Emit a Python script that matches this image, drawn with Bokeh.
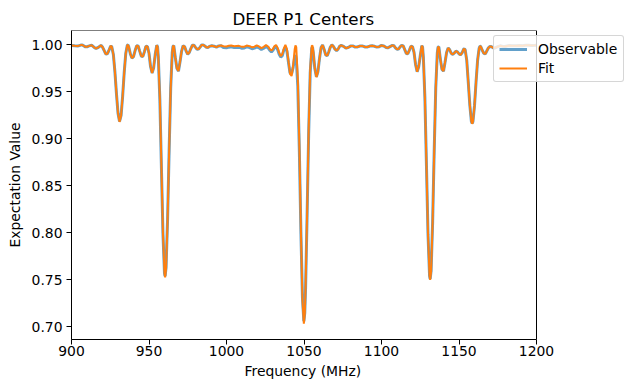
from bokeh.plotting import figure
from bokeh.models import Range1d, FixedTicker, PrintfTickFormatter, Legend, LegendItem, BoxAnnotation, Title
from bokeh.embed import file_html
from bokeh.resources import INLINE

# Frequency (MHz) sample positions
freq = [900, 902, 904, 906, 907, 909, 910, 911, 913, 915, 916, 917, 919, 920, 921, 922, 923, 924, 925, 925.5,
        926, 927, 928, 929, 930, 931, 932, 933, 934, 935, 936, 936.5, 937, 938, 939, 940, 941, 942, 943, 944,
        945, 946, 947, 948, 949, 950, 951, 952, 953, 954, 955, 955.5, 956, 957, 958, 959, 960, 960.4, 961, 962,
        963, 964, 965, 965.5, 966, 967, 968, 969, 970, 971, 972, 973, 974, 975, 976, 977, 978, 979, 980, 981,
        982, 983, 984, 985, 986, 987, 988, 989, 990.5, 992, 993.5, 995, 996.5, 998, 1000, 1001.5, 1003, 1005, 1006.5, 1008,
        1010, 1011.5, 1013, 1015, 1016.5, 1018, 1019.5, 1021, 1022.5, 1024, 1025.5, 1027, 1028, 1029, 1030, 1031, 1032, 1033, 1034, 1035,
        1036, 1037, 1038, 1039, 1040, 1041, 1042, 1043, 1044, 1044.5, 1045, 1046, 1047, 1048, 1049, 1049.9, 1050.5, 1051, 1052, 1053,
        1054, 1055, 1055.5, 1056, 1057, 1058, 1059, 1060, 1061, 1062, 1063, 1064, 1065, 1066, 1067, 1068, 1069, 1070, 1071, 1072,
        1073, 1074, 1075.5, 1077, 1078.5, 1080, 1081.5, 1083, 1084.5, 1086, 1087.5, 1089.5, 1091, 1092.5, 1094, 1095.5, 1097, 1098.5, 1100, 1101.5,
        1103, 1104, 1105.5, 1107, 1108, 1109, 1110, 1111, 1112, 1113, 1114, 1115, 1116, 1117, 1118, 1119, 1120, 1121, 1122, 1123,
        1124, 1125, 1126, 1126.5, 1127, 1128, 1129, 1130, 1131, 1131.4, 1132, 1133, 1134, 1135, 1136, 1136.5, 1137, 1138, 1139, 1140,
        1141, 1142, 1143, 1144, 1145, 1146, 1147, 1148, 1149, 1150, 1151, 1152, 1153, 1153.5, 1154, 1155, 1156, 1157, 1158, 1158.5,
        1159, 1160, 1161, 1162, 1163, 1163.5, 1164, 1165, 1166, 1167, 1168, 1169, 1170, 1171, 1172, 1173, 1174, 1175, 1176.5, 1178,
        1179.5, 1181, 1182.5, 1184, 1185.5, 1187, 1189, 1191, 1193, 1195, 1197, 1199, 1200]

# Fit expectation values
fit = [0.9993, 0.9989, 0.9986, 0.9997, 0.9998, 0.9978, 0.9978, 0.9986, 0.9996, 0.9968, 0.9961, 0.9969, 0.9994, 0.9976, 0.9942, 0.9905, 0.9901, 0.9934, 0.9977, 0.9988,
       0.9978, 0.9897, 0.9715, 0.9480, 0.9272, 0.9180, 0.9249, 0.9454, 0.9704, 0.9907, 0.9995, 0.9998, 0.9974, 0.9902, 0.9859, 0.9874, 0.9936, 0.9989, 0.9987, 0.9933,
       0.9880, 0.9874, 0.9924, 0.9984, 0.9982, 0.9910, 0.9769, 0.9700, 0.9756, 0.9896, 0.9995, 0.9980, 0.9874, 0.9432, 0.8720, 0.8000, 0.7568, 0.7527, 0.7616, 0.8140,
       0.8880, 0.9542, 0.9920, 0.9985, 0.9990, 0.9862, 0.9750, 0.9720, 0.9816, 0.9929, 0.9990, 0.9980, 0.9931, 0.9900, 0.9918, 0.9960, 0.9995, 0.9995, 0.9973, 0.9953,
       0.9955, 0.9975, 0.9998, 0.9998, 0.9988, 0.9973, 0.9972, 0.9983, 0.9990, 0.9985, 0.9975, 0.9988, 0.9993, 0.9985, 0.9982, 0.9990, 0.9992, 0.9984, 0.9987, 0.9989,
       0.9978, 0.9980, 0.9992, 0.9985, 0.9973, 0.9980, 0.9993, 0.9982, 0.9964, 0.9978, 0.9997, 0.9979, 0.9951, 0.9939, 0.9957, 0.9987, 0.9998, 0.9967, 0.9914, 0.9881,
       0.9899, 0.9961, 0.9998, 0.9955, 0.9825, 0.9690, 0.9668, 0.9780, 0.9953, 0.9994, 0.9976, 0.9641, 0.8924, 0.8025, 0.7287, 0.7035, 0.7139, 0.7403, 0.8203, 0.9087,
       0.9736, 0.9988, 0.9991, 0.9926, 0.9748, 0.9656, 0.9712, 0.9855, 0.9970, 0.9998, 0.9950, 0.9893, 0.9884, 0.9926, 0.9976, 0.9999, 0.9982, 0.9953, 0.9938, 0.9954,
       0.9984, 0.9994, 0.9983, 0.9964, 0.9971, 0.9986, 0.9988, 0.9976, 0.9977, 0.9987, 0.9988, 0.9977, 0.9977, 0.9987, 0.9989, 0.9984, 0.9975, 0.9980, 0.9993, 0.9988,
       0.9971, 0.9968, 0.9981, 0.9994, 0.9990, 0.9968, 0.9953, 0.9955, 0.9978, 0.9994, 0.9988, 0.9948, 0.9908, 0.9905, 0.9943, 0.9985, 0.9980, 0.9918, 0.9788, 0.9713,
       0.9766, 0.9883, 0.9990, 0.9976, 0.9870, 0.9435, 0.8718, 0.7986, 0.7542, 0.7500, 0.7588, 0.8120, 0.8871, 0.9541, 0.9914, 0.9976, 0.9977, 0.9845, 0.9740, 0.9720,
       0.9814, 0.9918, 0.9966, 0.9947, 0.9909, 0.9898, 0.9913, 0.9932, 0.9924, 0.9903, 0.9894, 0.9915, 0.9953, 0.9957, 0.9945, 0.9834, 0.9597, 0.9355, 0.9184, 0.9160,
       0.9182, 0.9350, 0.9605, 0.9835, 0.9963, 0.9984, 0.9982, 0.9942, 0.9909, 0.9904, 0.9937, 0.9968, 0.9983, 0.9979, 0.9968, 0.9964, 0.9973, 0.9981, 0.9989, 0.9984,
       0.9982, 0.9988, 0.9992, 0.9989, 0.9989, 0.9991, 0.9993, 0.9989, 0.9994, 0.9995, 0.9993, 0.9994, 0.9995]

# Observed expectation values
observable = [0.9993, 0.9989, 0.9986, 0.9997, 0.9998, 0.9978, 0.9978, 0.9986, 0.9996, 0.9968, 0.9961, 0.9969, 0.9994, 0.9976, 0.9942, 0.9905, 0.9901, 0.9934, 0.9977, 0.9988,
              0.9978, 0.9897, 0.9715, 0.9480, 0.9272, 0.9185, 0.9249, 0.9454, 0.9704, 0.9907, 0.9995, 0.9998, 0.9974, 0.9902, 0.9859, 0.9874, 0.9936, 0.9989, 0.9987, 0.9933,
              0.9880, 0.9874, 0.9924, 0.9984, 0.9982, 0.9910, 0.9769, 0.9700, 0.9756, 0.9896, 0.9995, 0.9980, 0.9874, 0.9420, 0.8700, 0.7990, 0.7570, 0.7540, 0.7630, 0.8150,
              0.8880, 0.9542, 0.9920, 0.9985, 0.9990, 0.9862, 0.9750, 0.9720, 0.9816, 0.9929, 0.9990, 0.9980, 0.9931, 0.9900, 0.9918, 0.9960, 0.9995, 0.9995, 0.9973, 0.9953,
              0.9955, 0.9975, 0.9998, 0.9998, 0.9988, 0.9973, 0.9972, 0.9983, 0.9990, 0.9985, 0.9975, 0.9988, 0.9990, 0.9972, 0.9968, 0.9975, 0.9978, 0.9970, 0.9972, 0.9975,
              0.9963, 0.9966, 0.9978, 0.9970, 0.9958, 0.9965, 0.9978, 0.9968, 0.9950, 0.9963, 0.9982, 0.9965, 0.9940, 0.9925, 0.9942, 0.9972, 0.9980, 0.9950, 0.9900, 0.9870,
              0.9885, 0.9945, 0.9975, 0.9930, 0.9810, 0.9700, 0.9690, 0.9760, 0.9870, 0.9890, 0.9850, 0.9560, 0.8870, 0.8010, 0.7310, 0.7060, 0.7150, 0.7400, 0.8180, 0.9050,
              0.9700, 0.9965, 0.9975, 0.9915, 0.9745, 0.9660, 0.9715, 0.9855, 0.9970, 0.9998, 0.9950, 0.9893, 0.9884, 0.9926, 0.9976, 0.9999, 0.9982, 0.9953, 0.9938, 0.9954,
              0.9984, 0.9994, 0.9983, 0.9964, 0.9971, 0.9986, 0.9988, 0.9976, 0.9977, 0.9987, 0.9988, 0.9977, 0.9977, 0.9987, 0.9989, 0.9984, 0.9975, 0.9980, 0.9993, 0.9988,
              0.9971, 0.9968, 0.9981, 0.9994, 0.9990, 0.9968, 0.9953, 0.9955, 0.9978, 0.9994, 0.9988, 0.9948, 0.9908, 0.9905, 0.9943, 0.9985, 0.9980, 0.9918, 0.9788, 0.9713,
              0.9766, 0.9883, 0.9990, 0.9976, 0.9870, 0.9435, 0.8718, 0.7986, 0.7545, 0.7510, 0.7595, 0.8120, 0.8871, 0.9541, 0.9914, 0.9976, 0.9977, 0.9845, 0.9740, 0.9720,
              0.9814, 0.9918, 0.9966, 0.9947, 0.9909, 0.9898, 0.9913, 0.9932, 0.9924, 0.9903, 0.9894, 0.9915, 0.9953, 0.9957, 0.9945, 0.9834, 0.9597, 0.9355, 0.9184, 0.9165,
              0.9182, 0.9350, 0.9605, 0.9835, 0.9963, 0.9984, 0.9982, 0.9942, 0.9909, 0.9904, 0.9937, 0.9968, 0.9983, 0.9979, 0.9968, 0.9964, 0.9973, 0.9981, 0.9989, 0.9984,
              0.9982, 0.9988, 0.9992, 0.9989, 0.9989, 0.9991, 0.9993, 0.9989, 0.9994, 0.9995, 0.9993, 0.9994, 0.9995]

x_ticks = [900, 950, 1000, 1050, 1100, 1150, 1200]
y_ticks = [0.70, 0.75, 0.80, 0.85, 0.90, 0.95, 1.00]
x_lo, x_hi = 900, 1200
y_lo, y_hi = 0.6866, 1.0152

FONT = "DejaVu Sans"

# Bokeh's page template has no body margin, so the canvas sits at (0, 0).
# Axes box is 465 px wide for 900..1200; the frame is widened to the right so the
# legend (which sticks out past the right spine) is not clipped.
LEFT, TOP, BOX_W, BOX_H = 71, 30, 465, 309
CANVAS_W, CANVAS_H = 631, 391
frame_w = CANVAS_W - LEFT
x_view_hi = x_lo + (x_hi - x_lo) * frame_w / BOX_W

p = figure(frame_width=frame_w, frame_height=BOX_H, output_backend="svg", toolbar_location=None,
           x_range=Range1d(x_lo, x_view_hi), y_range=Range1d(y_lo, y_hi),
           min_border_left=LEFT, min_border_right=0, min_border_top=TOP,
           min_border_bottom=CANVAS_H - TOP - BOX_H, title="DEER P1 Centers")

p.title.align = "left"
p.title.offset = 161
p.title.text_font = FONT
p.title.text_font_size = "16.7px"
p.title.text_font_style = "normal"
p.title.text_color = "black"
p.title.text_line_height = 1.0
p.title.standoff = 4

p.grid.visible = False
p.outline_line_color = None
p.background_fill_color = "white"
p.border_fill_color = "white"

for ax in (p.xaxis[0], p.yaxis[0]):
    ax.axis_line_color = "black"
    ax.major_tick_line_color = "black"
    ax.minor_tick_line_color = None
    ax.major_tick_out = 5
    ax.major_tick_in = 0
    ax.major_label_text_font = FONT
    ax.major_label_text_font_size = "13.9px"
    ax.major_label_text_color = "black"
    ax.major_label_text_line_height = 1.0
    ax.axis_label_text_font = FONT
    ax.axis_label_text_font_size = "13.9px"
    ax.axis_label_text_font_style = "normal"
    ax.axis_label_text_color = "black"
    ax.axis_label_text_line_height = 1.0

p.xaxis.bounds = (x_lo, x_hi)
p.xaxis.ticker = FixedTicker(ticks=x_ticks)
p.yaxis.ticker = FixedTicker(ticks=y_ticks)
p.yaxis.formatter = PrintfTickFormatter(format="%.2f")
p.xaxis.major_label_standoff = 1
p.yaxis.major_label_standoff = 4
p.yaxis.axis_label = "Expectation Value"
p.yaxis.axis_label_standoff = 6

# x-axis label, centred under the 900..1200 box
xlabel = Title(text="Frequency (MHz)", align="left", offset=173,
               text_font=FONT, text_font_size="13.9px", text_font_style="normal",
               text_color="black", text_line_height=1.0, standoff=4)
p.add_layout(xlabel, "below")

r_obs = p.line(freq, observable, line_color="#1f77b4", line_alpha=0.7, line_width=3)
r_fit = p.line(freq, fit, line_color="#ff7f0e", line_width=2)

# axes box (spines) over the 900..1200 range
box = BoxAnnotation(left=x_lo, right=x_hi, fill_color=None,
                    line_color="black", line_width=1, line_alpha=1)
p.add_layout(box)

legend = Legend(items=[LegendItem(label="Observable", renderers=[r_obs]),
                       LegendItem(label="Fit", renderers=[r_fit])],
                location=(422, 257))
legend.background_fill_color = "white"
legend.background_fill_alpha = 0.8
legend.border_line_color = "#cccccc"
legend.border_line_alpha = 0.8
legend.border_line_width = 1
legend.label_text_font = FONT
legend.label_text_font_size = "13.9px"
legend.label_text_color = "black"
legend.glyph_width = 28
legend.glyph_height = 16
legend.label_height = 16
legend.label_width = 80
legend.label_standoff = 11
legend.padding = 5
legend.spacing = 3
legend.margin = 0
try:
    legend.border_radius = 3
except Exception:
    pass
p.add_layout(legend)

open("out.html", "w").write(file_html(p, INLINE))
